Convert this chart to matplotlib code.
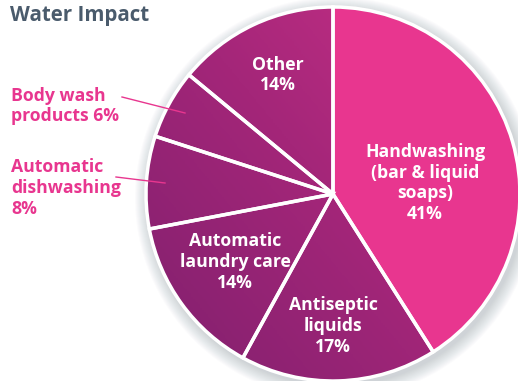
import numpy as np
import matplotlib.pyplot as plt
from matplotlib.colors import LinearSegmentedColormap
from matplotlib.patches import Circle

plt.rcParams['font.family'] = ['Open Sans', 'DejaVu Sans']

labels = ['Handwashing', 'Antiseptic liquids', 'Automatic laundry care',
          'Automatic dishwashing', 'Body wash products', 'Other']
shares = [41, 17, 14, 8, 6, 14]

PINK = '#E8368F'
TITLE = '#4A5B6C'

W, H = 518, 381
fig = plt.figure(figsize=(W / 100, H / 100), dpi=100)
ax = fig.add_axes([0, 0, 1, 1])

cx, cy, r = 333, H - 194, 187

# soft drop shadow
for i in range(14):
    ax.add_patch(Circle((cx + 3, cy - 4), r + 14 - i, color='#6b7a86',
                        alpha=0.025, lw=0, zorder=1))

wedges, _ = ax.pie(shares, startangle=90, counterclock=False, radius=r,
                   center=(cx, cy), colors=[PINK] + ['none'] * 5,
                   wedgeprops=dict(edgecolor='white', linewidth=2.5),
                   frame=True)
ax.set_xlim(0, W)
ax.set_ylim(0, H)
ax.set_aspect('equal')
ax.axis('off')
for w in wedges:
    w.set_zorder(3)

# gradient fill for the purple slices
cmap = LinearSegmentedColormap.from_list('grad', ['#80206E', '#A42679', '#CE3289'])
xx, yy = np.meshgrid(np.linspace(0, 1, 200), np.linspace(0, 1, 200))
grad = xx * 0.55 + yy * 0.45
for w in wedges[1:]:
    im = ax.imshow(grad, cmap=cmap, origin='lower', zorder=2,
                   extent=(cx - r, cx + r, cy - r, cy + r))
    im.set_clip_path(w)

fs = 12.7
txt = dict(color='white', fontweight='bold', fontsize=fs, ha='center',
           va='center', linespacing=1.2, zorder=5)
ax.text(425, H - 183, 'Handwashing\n(bar & liquid\nsoaps)\n41%', **txt)
ax.text(333, H - 326, 'Antiseptic\nliquids\n17%', **txt)
ax.text(235, H - 262, 'Automatic\nlaundry care\n14%', **txt)
ax.text(278, H - 75, 'Other\n14%', **txt)

out = dict(color=PINK, fontweight='bold', fontsize=fs, ha='left',
           va='center', linespacing=1.2, zorder=5)
ax.text(11, H - 106, 'Body wash\nproducts 6%', **out)
ax.text(11, H - 188, 'Automatic\ndishwashing\n8%', **out)
ax.plot([122, 185], [H - 97, H - 113], color=PINK, lw=1, zorder=5)
ax.plot([116, 165], [H - 177, H - 183], color=PINK, lw=1, zorder=5)

ax.text(10, H - 15, 'Water Impact', color=TITLE, fontweight='bold',
        fontsize=14.8, ha='left', va='center')

fig.savefig('out.png', dpi=100)
